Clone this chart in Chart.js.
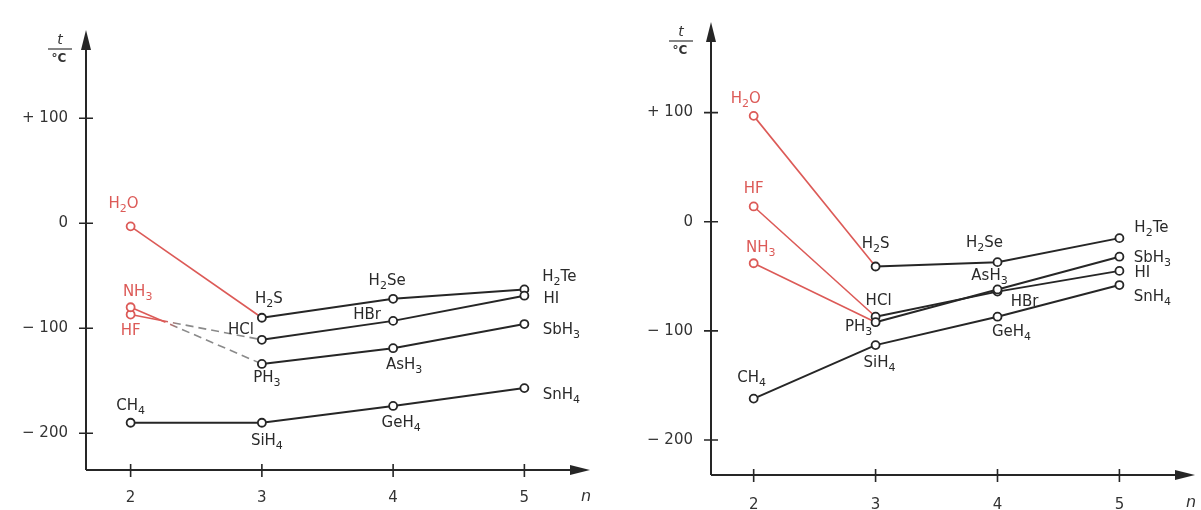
<!DOCTYPE html>
<html><head><meta charset="utf-8">
<script src="https://cdn.jsdelivr.net/npm/chart.js@4/dist/chart.umd.min.js"></script>
<style>
html,body{margin:0;padding:0;background:#fff;width:1201px;height:510px;overflow:hidden}
#l{position:absolute;left:0;top:0;width:600px;height:510px}
#r{position:absolute;left:600px;top:0;width:601px;height:510px}
</style></head><body>
<div id="l"><canvas id="cl"></canvas></div>
<div id="r"><canvas id="cr"></canvas></div>
<script>
// ---- data ----
const periods = [2, 3, 4, 5];
const xTickLabels = ['2', '3', '4', '5'];
const yTickValues = [100, 0, -100, -200];
const yTickLabels = ['+ 100', '0', '− 100', '− 200'];

const names14 = ['CH₄', 'SiH₄', 'GeH₄', 'SnH₄'];
const names15 = ['NH₃', 'PH₃', 'AsH₃', 'SbH₃'];
const names16 = ['H₂O', 'H₂S', 'H₂Se', 'H₂Te'];
const names17 = ['HF', 'HCl', 'HBr', 'HI'];

// melting points (left panel)
const melt14 = [-190, -190, -174, -157];
const melt15 = [-80, -134, -119, -96];
const melt16 = [-3, -90, -72, -63];
const melt17 = [-87, -111, -93, -69];

// boiling points (right panel)
const boil14 = [-162, -113, -87, -58];
const boil15 = [-38, -92, -62, -32];
const boil16 = [97, -41, -37, -15];
const boil17 = [14, -87, -64, -45];

// ---- style ----
const RED = '#dc5a57';
const GREY = '#8a8a8a';
const BLACK = '#262626';
const FONT = '"DejaVu Sans", sans-serif';
const DASH = [38, 5, 8, 5, 8, 5, 8, 5, 8, 5, 8, 5, 8, 5, 8, 5, 8, 5, 8, 5, 8, 5, 8, 5, 8, 5];
const SUB = { '₂': '2', '₃': '3', '₄': '4' };

// label offsets (dx, dy) relative to the point, per panel
const offsL = {
  'H₂O': [-7, -22], 'NH₃': [7, -15], 'HF': [0, 17], 'CH₄': [0, -17],
  'H₂S': [7, -19], 'HCl': [-21, -10], 'PH₃': [5, 14], 'SiH₄': [5, 18],
  'H₂Se': [-6, -18], 'HBr': [-26, -6], 'AsH₃': [11, 17], 'GeH₄': [8, 17],
  'H₂Te': [35, -12], 'HI': [27, 3], 'SbH₃': [37, 6], 'SnH₄': [37, 7]
};
const offsR = {
  'H₂O': [-8, -17], 'HF': [0, -17], 'NH₃': [7, -15], 'CH₄': [-2, -20],
  'H₂S': [0, -22], 'HCl': [3, -16], 'PH₃': [-17, 5], 'SiH₄': [4, 18],
  'H₂Se': [-13, -19], 'AsH₃': [-8, -13], 'HBr': [27, 10], 'GeH₄': [14, 15],
  'H₂Te': [32, -10], 'SbH₃': [33, 1], 'HI': [23, 2], 'SnH₄': [33, 12]
};

function makeDs(names, vals, red, dash) {
  return {
    label: names.join(' – '),
    names: names,
    redFirst: red,
    data: periods.map((p, i) => ({ x: p, y: vals[i] })),
    borderColor: BLACK,
    borderWidth: 2,
    pointRadius: 4,
    pointBorderWidth: 1.8,
    pointBackgroundColor: '#fff',
    pointBorderColor: ctx => (red && ctx.dataIndex === 0) ? RED : BLACK,
    pointHoverRadius: 4,
    segment: {
      borderColor: ctx => {
        if (!red || ctx.p0DataIndex !== 0) return undefined;
        if (!dash) return RED;
        const g = ctx.chart.ctx.createLinearGradient(ctx.p0.x, 0, ctx.p1.x, 0);
        g.addColorStop(0, RED);
        g.addColorStop(0.26, RED);
        g.addColorStop(0.36, GREY);
        g.addColorStop(1, GREY);
        return g;
      },
      borderDash: ctx => (dash && ctx.p0DataIndex === 0) ? DASH : undefined,
      borderWidth: ctx => (red && ctx.p0DataIndex === 0) ? 1.6 : undefined
    }
  };
}

const axesPlugin = {
  id: 'axesPlugin',
  beforeDatasetsDraw(chart) {
    const { ctx, chartArea: ca, scales: { x, y } } = chart;
    ctx.save();
    ctx.strokeStyle = BLACK;
    ctx.fillStyle = BLACK;
    ctx.lineWidth = 2;
    ctx.beginPath();
    ctx.moveTo(ca.left, ca.bottom);
    ctx.lineTo(ca.left, ca.top + 12);
    ctx.moveTo(ca.left, ca.bottom);
    ctx.lineTo(ca.right - 12, ca.bottom);
    ctx.stroke();
    ctx.beginPath();
    ctx.moveTo(ca.left, ca.top);
    ctx.lineTo(ca.left - 5, ca.top + 20);
    ctx.lineTo(ca.left + 5, ca.top + 20);
    ctx.closePath();
    ctx.fill();
    ctx.beginPath();
    ctx.moveTo(ca.right, ca.bottom);
    ctx.lineTo(ca.right - 20, ca.bottom - 5);
    ctx.lineTo(ca.right - 20, ca.bottom + 5);
    ctx.closePath();
    ctx.fill();
    ctx.lineWidth = 1.6;
    ctx.beginPath();
    yTickValues.forEach(v => {
      const py = y.getPixelForValue(v);
      ctx.moveTo(ca.left - 7, py);
      ctx.lineTo(ca.left + 7, py);
    });
    periods.forEach(v => {
      const px = x.getPixelForValue(v);
      ctx.moveTo(px, ca.bottom - 6);
      ctx.lineTo(px, ca.bottom + 7);
    });
    ctx.stroke();
    const o = chart.options.plugins.axesPlugin;
    ctx.fillStyle = '#333';
    ctx.textAlign = 'center';
    ctx.textBaseline = 'middle';
    ctx.font = 'italic 14px ' + FONT;
    ctx.fillText('t', ca.left - o.tdx, ca.top + o.tdy);
    ctx.lineWidth = 1.2;
    ctx.strokeStyle = '#333';
    ctx.beginPath();
    ctx.moveTo(ca.left - o.tdx - 12, ca.top + o.tdy + 9);
    ctx.lineTo(ca.left - o.tdx + 12, ca.top + o.tdy + 9);
    ctx.stroke();
    ctx.font = 'bold 12px ' + FONT;
    ctx.fillText('°C', ca.left - o.tdx - 1, ca.top + o.tdy + 19);
    ctx.font = 'italic 16px ' + FONT;
    ctx.fillText('n', ca.right - o.ndx, ca.bottom + o.ndy);
    ctx.restore();
  }
};

function drawFormula(ctx, name, cx, cy) {
  const parts = [];
  for (const ch of name) {
    const sub = SUB[ch] !== undefined;
    const t = sub ? SUB[ch] : ch;
    if (parts.length && parts[parts.length - 1].sub === sub) parts[parts.length - 1].t += t;
    else parts.push({ t, sub });
  }
  const big = '15px ' + FONT, small = '11px ' + FONT;
  let w = 0;
  parts.forEach(p => { ctx.font = p.sub ? small : big; p.w = ctx.measureText(p.t).width; w += p.w; });
  let xx = cx - w / 2;
  ctx.textAlign = 'left';
  ctx.textBaseline = 'middle';
  parts.forEach(p => {
    ctx.font = p.sub ? small : big;
    ctx.fillText(p.t, xx, cy + (p.sub ? 5 : 0));
    xx += p.w;
  });
}

const labelPlugin = {
  id: 'labelPlugin',
  afterDatasetsDraw(chart) {
    const { ctx } = chart;
    const offs = chart.options.plugins.labelPlugin.offsets;
    ctx.save();
    chart.data.datasets.forEach((ds, i) => {
      const meta = chart.getDatasetMeta(i);
      meta.data.forEach((pt, j) => {
        const name = ds.names[j];
        const o = offs[name] || [0, -15];
        ctx.fillStyle = (ds.redFirst && j === 0) ? RED : '#2a2a2a';
        drawFormula(ctx, name, pt.x + o[0], pt.y + o[1]);
      });
    });
    ctx.restore();
  }
};

function makeChart(id, datasets, cfg) {
  return new Chart(document.getElementById(id), {
    type: 'line',
    data: { datasets },
    plugins: [axesPlugin, labelPlugin],
    options: {
      responsive: true,
      maintainAspectRatio: false,
      animation: false,
      layout: { padding: { top: cfg.top, right: cfg.right, left: 0, bottom: 0 } },
      plugins: {
        legend: { display: false },
        tooltip: { enabled: false },
        axesPlugin: cfg.titles,
        labelPlugin: { offsets: cfg.offsets }
      },
      scales: {
        x: {
          type: 'linear',
          min: cfg.xmin, max: cfg.xmax,
          grid: { display: false },
          border: { display: false },
          afterBuildTicks: s => { s.ticks = periods.map(v => ({ value: v })); },
          afterFit: s => { s.height = cfg.xh; },
          ticks: {
            padding: cfg.xpad,
            color: '#333',
            font: { size: 15, family: FONT },
            callback: (v) => xTickLabels[periods.indexOf(v)]
          }
        },
        y: {
          type: 'linear',
          min: cfg.ymin, max: cfg.ymax,
          grid: { display: false },
          border: { display: false },
          afterBuildTicks: s => { s.ticks = yTickValues.map(v => ({ value: v })); },
          afterFit: s => { s.width = cfg.yw; },
          ticks: {
            padding: 10,
            color: '#333',
            font: { size: 15, family: FONT },
            callback: (v) => yTickLabels[yTickValues.indexOf(v)]
          }
        }
      }
    }
  });
}

makeChart('cl', [
  makeDs(names14, melt14, false, false),
  makeDs(names15, melt15, true, true),
  makeDs(names17, melt17, true, true),
  makeDs(names16, melt16, true, false)
], {
  top: 30, right: 10, yw: 86, xh: 40, xpad: 11,
  xmin: 1.66, xmax: 5.5, ymin: -235, ymax: 184,
  offsets: offsL,
  titles: { tdx: 26, tdy: 10, ndx: 4, ndy: 27 }
});

makeChart('cr', [
  makeDs(names14, boil14, false, false),
  makeDs(names15, boil15, true, false),
  makeDs(names17, boil17, true, false),
  makeDs(names16, boil16, true, false)
], {
  top: 22, right: 6, yw: 111, xh: 35, xpad: 13,
  xmin: 1.65, xmax: 5.62, ymin: -232, ymax: 183,
  offsets: offsR,
  titles: { tdx: 30, tdy: 10, ndx: 4, ndy: 28 }
});
</script>
</body></html>
